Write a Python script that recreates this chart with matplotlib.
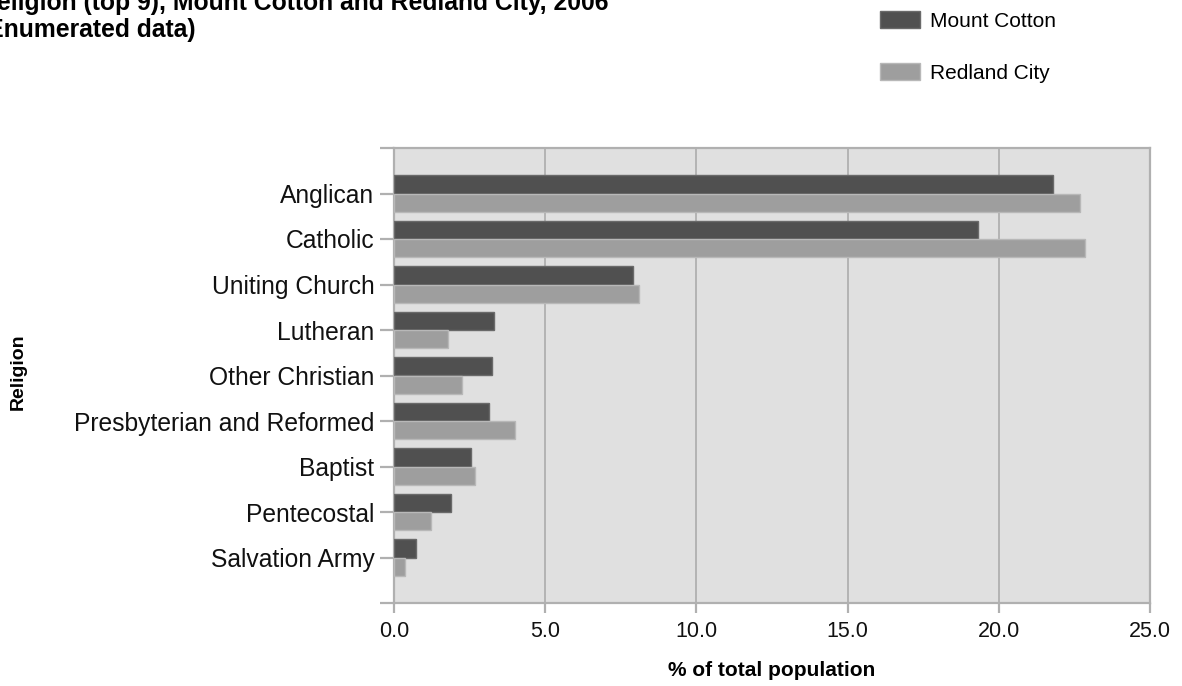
import matplotlib
matplotlib.use("Agg")
import matplotlib.pyplot as plt
import numpy as np
from matplotlib.patches import Patch

religions = ["Anglican", "Catholic", "Uniting Church", "Lutheran", "Other Christian",
             "Presbyterian and Reformed", "Baptist", "Pentecostal", "Salvation Army"]
mount_cotton = [21.8, 19.3, 7.9, 3.3, 3.25, 3.15, 2.53, 1.9, 0.74]
redland_city = [22.7, 22.85, 8.1, 1.8, 2.25, 4.0, 2.69, 1.22, 0.36]

dark = "#505050"
light = "#9e9e9e"
grid_col = "#b0b0b0"

plt.rcParams['font.family'] = ['Liberation Sans', 'DejaVu Sans']

W, H = 1182, 686
fig = plt.figure(figsize=(W / 100, H / 100), dpi=100)
ax = fig.add_axes([394 / W, 1 - 603 / H, (1150 - 394) / W, (603 - 148) / H])
ax.set_facecolor("#e0e0e0")

y = np.arange(len(religions))
h = 0.4
ax.barh(y - h / 2, mount_cotton, height=h, color=dark, edgecolor="#6a6a6a", linewidth=1, zorder=3)
ax.barh(y + h / 2, redland_city, height=h, color=light, edgecolor="#b8b8b8", linewidth=1, zorder=3)

ax.set_xlim(0, 25)
ax.set_ylim(len(religions), -1)
ax.set_xticks(np.arange(0, 26, 5))
ax.set_xticklabels([f"{v:.1f}" for v in np.arange(0, 26, 5)], fontsize=15.5)
ax.set_yticks(y)
ax.set_yticklabels(religions, fontsize=17.7)
ax.set_yticks([-1, len(religions)], minor=True)
ax.xaxis.grid(True, color=grid_col, linewidth=1.3, zorder=0)
ax.set_axisbelow(True)

for s in ax.spines.values():
    s.set_color(grid_col)
    s.set_linewidth(1.6)

ax.tick_params(axis="y", which="both", length=10, width=1.6, color=grid_col, pad=4, labelcolor="#111111")
ax.tick_params(axis="x", length=7, width=1.6, color=grid_col, pad=6, labelcolor="#111111")

ax.set_xlabel("% of total population", fontsize=15, fontweight="bold", labelpad=14)
fig.text(18 / W, 1 - 372 / H, "Religion", rotation=90, fontsize=14, fontweight="bold",
         ha="center", va="center")

# title, cut at the left/top edge as in the source
fig.text(-21 / W, 1 - 10 / H, "Religion (top 9), Mount Cotton and Redland City, 2006",
         fontsize=17.8, fontweight="bold", va="baseline", ha="left")
fig.text(-21 / W, 1 - 37 / H, "(Enumerated data)",
         fontsize=17.8, fontweight="bold", va="baseline", ha="left")

handles = [Patch(facecolor=dark, edgecolor="#6a6a6a"), Patch(facecolor=light, edgecolor="#b8b8b8")]
fig.legend(handles, ["Mount Cotton", "Redland City"], loc="upper left",
           bbox_to_anchor=(880 / W, 1 - 11 / H), frameon=False, fontsize=15,
           handlelength=1.9, handleheight=0.85, handletextpad=0.5, labelspacing=1.58,
           borderpad=0, borderaxespad=0)

fig.savefig("out.png", dpi=100)
